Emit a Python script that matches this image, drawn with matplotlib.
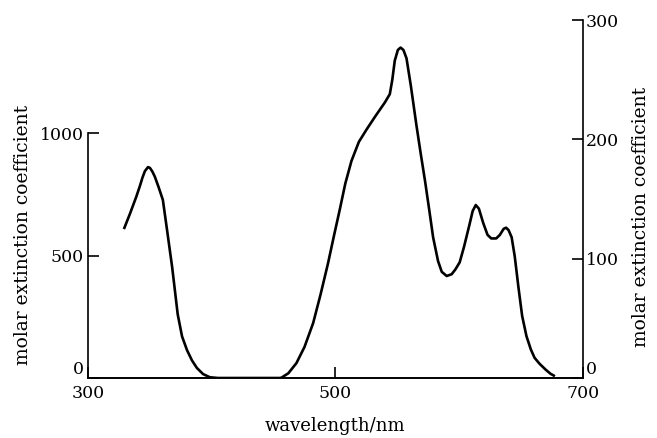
import matplotlib
matplotlib.use("Agg")
import matplotlib.pyplot as plt

# UV band, read against the left axis (0-1000)
uv_wavelength = [329, 334, 339, 342, 344, 346, 348.5, 350, 352, 354, 357, 360.5, 364, 368, 372.5, 376, 380, 384, 388, 393, 398.5, 405, 420, 440, 456]
uv_extinction = [608, 672, 740, 785, 818, 845, 861, 858, 843, 822, 780, 727, 600, 453, 260, 170, 114, 72, 41, 16, 3, 0, 0, 0, 0]

# visible bands, read against the right axis (0-300)
vis_wavelength = [456, 462, 468.5, 475, 482, 488, 494, 499, 503.5, 508, 513, 519, 525, 532, 540, 544, 546, 548, 550.5, 552.7, 555, 557.5, 561,
                  565.5, 569, 572.5, 576, 579, 583, 586, 590, 594, 597, 600.5, 604, 608.5, 611, 613.5, 616, 619.5, 623, 626, 630, 633,
                  636, 638, 640, 642.5, 645, 648, 651, 654.5, 658, 661, 665, 670, 674, 677.5]
vis_extinction = [0, 4, 12.5, 26, 46, 70, 96, 120, 141, 163, 182, 198, 208, 219, 231, 238, 250, 266, 275, 277, 275, 268, 245,
                  212, 188, 165, 140, 118, 98, 89, 85.5, 87, 91, 97, 110, 129, 140, 145, 142, 130, 120, 117, 117, 120,
                  125, 126, 124, 118, 102, 76, 52, 35, 24, 17, 12, 7, 3.5, 1.5]

plt.rcParams["font.family"] = "DejaVu Serif"
plt.rcParams["font.size"] = 12.5

fig = plt.figure(figsize=(6.57, 4.38), dpi=100)
ax = fig.add_axes([0.134, 0.137, 0.753, 0.817])
ax2 = ax.twinx()

ax.plot(uv_wavelength, uv_extinction, color="black", lw=1.9, solid_capstyle="butt")
ax2.plot(vis_wavelength, vis_extinction, color="black", lw=1.9, solid_capstyle="butt")

ax.set_xlim(300, 700)
ax.set_ylim(0, 1461)
ax2.set_ylim(0, 300)

ax.set_xticks([300, 500, 700])
ax.set_yticks([0, 500, 1000])
ax2.set_yticks([0, 100, 200, 300])

for a in (ax, ax2):
    a.spines["top"].set_visible(False)
    a.spines["left"].set_linewidth(1.2)
    a.spines["right"].set_linewidth(1.2)
    a.spines["bottom"].set_linewidth(1.2)
ax.spines["left"].set_bounds(0, 1000)
ax.spines["right"].set_visible(False)
ax2.spines["left"].set_visible(False)

ax.tick_params(axis="both", direction="in", length=8, width=1.2, pad=3)
ax.tick_params(axis="x", pad=5)
ax2.tick_params(axis="y", direction="in", length=8, width=1.2, pad=2)

# the zero labels sit just above the x axis line, clear of 300 / 700
fig.canvas.draw()
ax.get_yticklabels()[0].set_verticalalignment("bottom")
ax2.get_yticklabels()[0].set_verticalalignment("bottom")

ax.set_xlabel("wavelength/nm", fontsize=13)
ax.xaxis.set_label_coords(0.5, -0.11)
ax.set_ylabel("molar extinction coefficient", fontsize=13.5)
ax.yaxis.set_label_coords(-0.113, 0.40)
ax2.set_ylabel("molar extinction coefficient", fontsize=13.5)
ax2.yaxis.set_label_coords(1.099, 0.45)

fig.savefig("out.png", dpi=100)
